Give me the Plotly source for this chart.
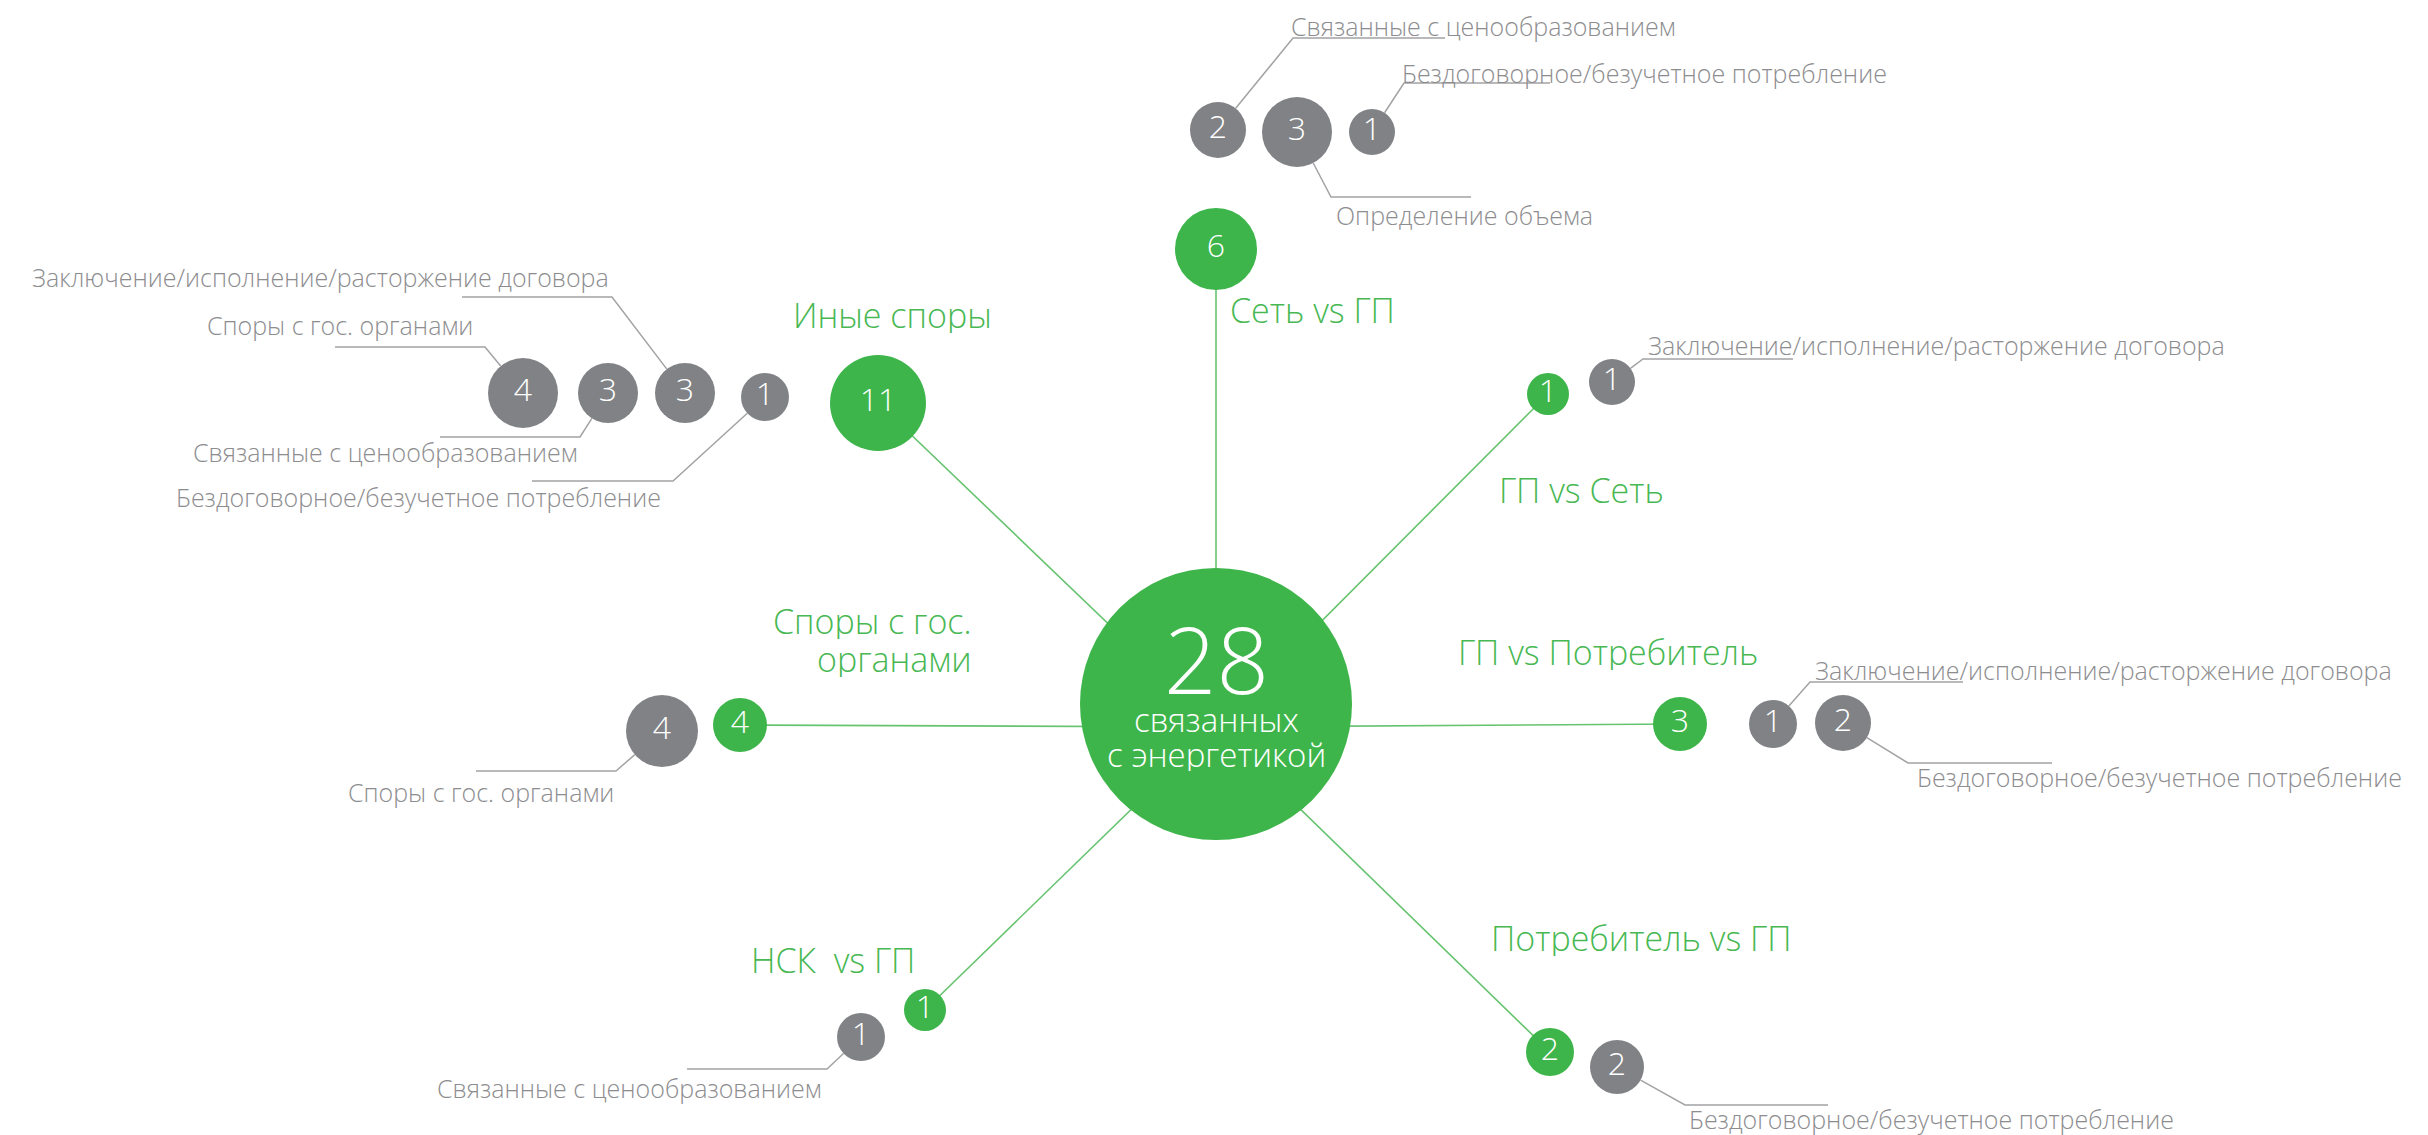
import math
import plotly.graph_objects as go

# ---------------- data ----------------
total_value = 28
total_caption = ["связанных", "с энергетикой"]

group_names = ["Сеть vs ГП", "ГП vs Сеть", "ГП vs Потребитель", "Потребитель vs ГП",
               "НСК  vs ГП", "Споры с гос.<br>органами", "Иные споры"]
group_values = [6, 1, 3, 2, 1, 4, 11]

sub_group = [0, 0, 0, 1, 2, 2, 3, 4, 5, 6, 6, 6, 6]
sub_values = [2, 3, 1, 1, 1, 2, 2, 1, 4, 4, 3, 3, 1]
sub_labels = [
    "Связанные с ценообразованием",
    "Определение объема",
    "Бездоговорное/безучетное потребление",
    "Заключение/исполнение/расторжение договора",
    "Заключение/исполнение/расторжение договора",
    "Бездоговорное/безучетное потребление",
    "Бездоговорное/безучетное потребление",
    "Связанные с ценообразованием",
    "Споры с гос. органами",
    "Споры с гос. органами",
    "Связанные с ценообразованием",
    "Заключение/исполнение/расторжение договора",
    "Бездоговорное/безучетное потребление",
]

# ---------------- layout (pixel canvas) ----------------
W, H = 2428, 1135
GREEN = "#3db54a"
GREEN_TXT = "#48b853"
GRAY = "#808285"
GRAY_TXT = "#8d8d8f"
LINE_GRAY = "#a3a3a5"
FONT = "Open Sans"

center_pos = (1216, 704)
center_r = 136
hub = (1216, 727)

group_pos = [(1216, 249), (1548, 394), (1680, 724), (1550, 1052), (925, 1010), (740, 725), (878, 403)]
group_r = [41, 21, 27, 24, 21, 27, 48]
group_label_pos = [(1228, 310, "left"), (1497, 490, "left"), (1456, 652, "left"), (1489, 938, "left"),
                   (917, 960, "right"), (974, 621, "right"), (791, 315, "left")]
GROUP_LINE_GAP = 38

sub_pos = [(1218, 130), (1297, 132), (1372, 132), (1612, 382), (1773, 724), (1843, 723),
           (1617, 1067), (861, 1037), (662, 731), (523, 393), (608, 393), (685, 393), (765, 397)]
sub_r = [28, 35, 23, 23, 24, 28, 27, 24, 36, 35, 30, 30, 24]
# label: x, y, anchor ; leader: elbow x, elbow y, end x
sub_label_pos = [(1289, 26, "left"), (1334, 215, "left"), (1400, 73, "left"), (1646, 345, "left"),
                 (1813, 670, "left"), (1915, 777, "left"), (1687, 1119, "left"), (824, 1088, "right"),
                 (616, 792, "right"), (475, 325, "right"), (580, 452, "right"), (611, 277, "right"),
                 (663, 497, "right")]
sub_leader = [(1293, 38, 1445), (1331, 197, 1471), (1404, 83, 1550), (1643, 359, 1793),
              (1810, 682, 1963), (1908, 763, 2052), (1685, 1105, 1828), (827, 1069, 687),
              (616, 771, 476), (485, 347, 335), (580, 437, 440), (612, 297, 462), (673, 481, 532)]

fig = go.Figure()

# spokes
for (gx, gy) in group_pos:
    fig.add_trace(go.Scatter(x=[gx, hub[0]], y=[gy, hub[1]], mode="lines",
                             line=dict(color="#66c36f", width=1.6), hoverinfo="skip", showlegend=False))

# leader lines
for (cx, cy), r, (ex, ey, endx) in zip(sub_pos, sub_r, sub_leader):
    dx, dy = ex - cx, ey - cy
    d = math.hypot(dx, dy)
    sx, sy = cx + r * dx / d, cy + r * dy / d
    fig.add_trace(go.Scatter(x=[sx, ex, endx], y=[sy, ey, ey], mode="lines",
                             line=dict(color=LINE_GRAY, width=1.5), hoverinfo="skip", showlegend=False))

# central circle
fig.add_trace(go.Scatter(x=[center_pos[0]], y=[center_pos[1]], mode="markers",
                         marker=dict(size=2 * center_r, color=GREEN, opacity=1, line=dict(width=0)),
                         hoverinfo="skip", showlegend=False))

# group circles
fig.add_trace(go.Scatter(x=[p[0] for p in group_pos], y=[p[1] for p in group_pos],
                         mode="markers+text", text=[str(v) for v in group_values],
                         textposition="middle center",
                         textfont=dict(family=FONT, size=32, color="white", weight=300),
                         marker=dict(size=[2 * r for r in group_r], color=GREEN, opacity=1,
                                     line=dict(width=0)),
                         hoverinfo="skip", showlegend=False))

# sub circles
fig.add_trace(go.Scatter(x=[p[0] for p in sub_pos], y=[p[1] for p in sub_pos],
                         mode="markers+text", text=[str(v) for v in sub_values],
                         textposition="middle center",
                         textfont=dict(family=FONT, size=32, color="white", weight=300),
                         marker=dict(size=[2 * r for r in sub_r], color=GRAY, opacity=1,
                                     line=dict(width=0)),
                         hoverinfo="skip", showlegend=False))

annotations = []
# center texts
annotations.append(dict(x=center_pos[0], y=658, text=str(total_value), showarrow=False,
                        xanchor="center", yanchor="middle", height=84, valign="middle",
                        font=dict(family=FONT, size=92, color="white", weight=300)))
annotations.append(dict(x=center_pos[0], y=719, text=total_caption[0], showarrow=False,
                        xanchor="center", yanchor="middle", height=34, valign="middle",
                        font=dict(family=FONT, size=33, color="white", weight=300)))
annotations.append(dict(x=center_pos[0], y=754, text=total_caption[1], showarrow=False,
                        xanchor="center", yanchor="middle", height=34, valign="middle",
                        font=dict(family=FONT, size=33, color="white", weight=300)))

for name, (lx, ly, anc) in zip(group_names, group_label_pos):
    for k, line in enumerate(name.split("<br>")):
        annotations.append(dict(x=lx, y=ly + k * GROUP_LINE_GAP, text=line, showarrow=False,
                                xanchor=anc, yanchor="middle", height=36, valign="middle",
                                font=dict(family=FONT, size=34, color=GREEN_TXT, weight=300)))

for lab, (lx, ly, anc) in zip(sub_labels, sub_label_pos):
    annotations.append(dict(x=lx, y=ly, text=lab, showarrow=False, xanchor=anc, yanchor="middle",
                            font=dict(family=FONT, size=25, color=GRAY_TXT, weight=300)))

fig.update_layout(
    width=W, height=H, margin=dict(l=0, r=0, t=0, b=0),
    paper_bgcolor="white", plot_bgcolor="white",
    xaxis=dict(range=[0, W], visible=False, fixedrange=True),
    yaxis=dict(range=[H, 0], visible=False, fixedrange=True),
    annotations=annotations, showlegend=False,
)

fig.write_html("out.html", config={"displayModeBar": False},
               post_script="document.body.style.margin='0';document.body.style.overflow='hidden';")
